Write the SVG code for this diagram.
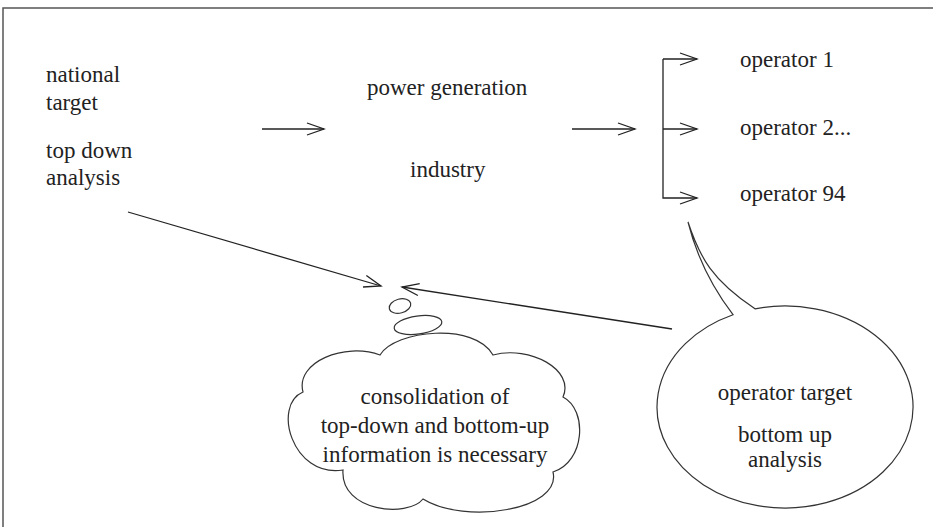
<svg xmlns="http://www.w3.org/2000/svg" width="933" height="527" viewBox="0 0 933 527">
<style>
text{font-family:"Liberation Serif","Tinos","DejaVu Serif",serif;font-size:23px;fill:#222}
.ln{stroke:#222;stroke-width:1.3;fill:none}
.sh{stroke:#333;stroke-width:1.2;fill:#fff}
</style>
<defs>
<marker id="ah" markerUnits="userSpaceOnUse" markerWidth="20" markerHeight="14" refX="17" refY="6" orient="auto" overflow="visible">
<path d="M0,0 L17,6 L0,12" fill="none" stroke="#222" stroke-width="1.3"/>
</marker>
</defs>
<rect x="3" y="8" width="1000" height="600" fill="#fff" stroke="#555" stroke-width="1.5"/>
<g id="connectors">
<line class="ln" x1="262" y1="129" x2="324" y2="129" marker-end="url(#ah)"/>
<line class="ln" x1="572" y1="129" x2="635" y2="129" marker-end="url(#ah)"/>
<path class="ln" d="M663,59 L663,198 L697,198" marker-end="url(#ah)"/>
<path class="ln" d="M663,59 L697,59" marker-end="url(#ah)"/>
<line class="ln" x1="663" y1="129" x2="697" y2="129" marker-end="url(#ah)"/>
<line class="ln" x1="128" y1="212" x2="381" y2="286" marker-end="url(#ah)"/>
<line class="ln" x1="672" y1="329" x2="402" y2="287" marker-end="url(#ah)"/>
</g>
<g id="national" font-family="Liberation Serif, serif">
<text x="46" y="82">national</text>
<text x="46" y="110">target</text>
<text x="46" y="158">top down</text>
<text x="46" y="185">analysis</text>
</g>
<g id="power">
<text x="367" y="95">power generation</text>
<text x="410" y="177">industry</text>
</g>
<g id="operators">
<text x="740" y="67">operator 1</text>
<text x="740" y="135">operator 2...</text>
<text x="740" y="201">operator 94</text>
</g>
<g id="thought">
<ellipse class="sh" cx="400" cy="306" rx="11" ry="7" transform="rotate(-15 400 306)"/>
<ellipse class="sh" cx="418" cy="325" rx="24" ry="9" transform="rotate(-8 418 325)"/>
<path class="sh" d="M303,392 C295,362 345,342 380,355 C395,330 475,322 493,355 C530,345 575,370 563,397 C588,410 585,462 553,472 C562,510 465,525 423,499 C408,518 340,512 343,470 C292,478 272,405 303,392 Z"/>
<text x="435" y="404" text-anchor="middle">consolidation of</text>
<text x="435" y="433" text-anchor="middle">top-down and bottom-up</text>
<text x="435" y="462" text-anchor="middle">information is necessary</text>
</g>
<g id="bubble">
<path class="sh" d="M755,308.8 A128,101 0 1 1 733,314.7 C718,295 698,262 688,222 C700,258 712,280 755,308.8 Z"/>
<text x="785" y="400" text-anchor="middle">operator target</text>
<text x="785" y="442" text-anchor="middle">bottom up</text>
<text x="785" y="467" text-anchor="middle">analysis</text>
</g>
</svg>
